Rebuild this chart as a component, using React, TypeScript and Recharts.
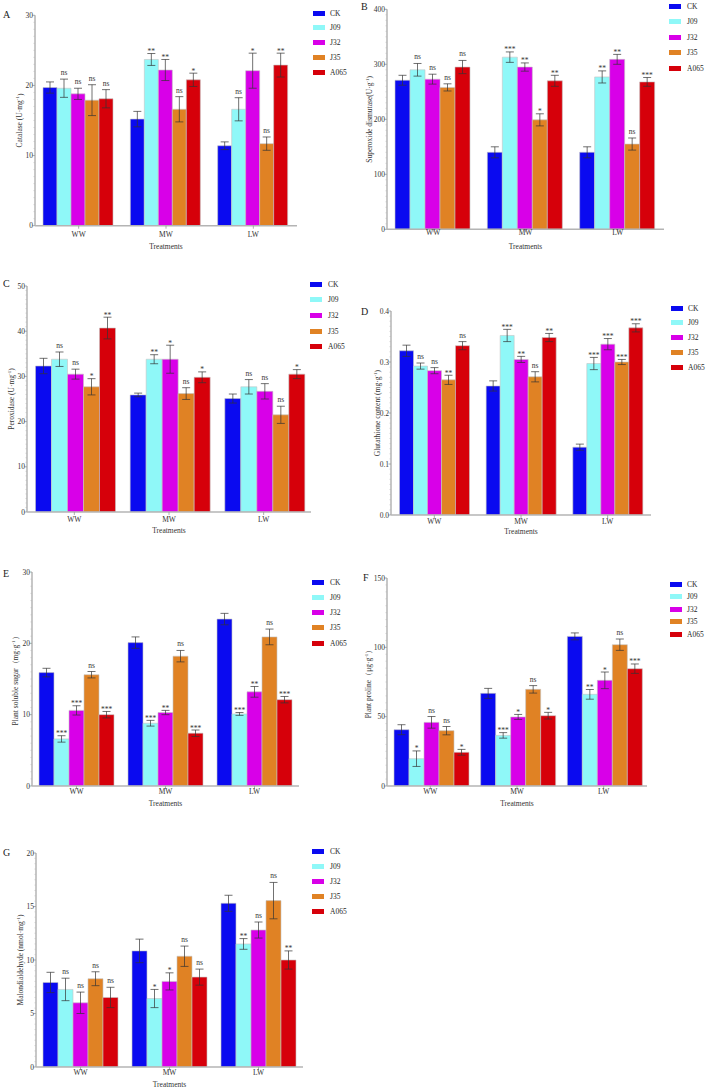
import React from "react";
import { BarChart, Bar, XAxis, YAxis, ErrorBar, LabelList, Legend } from "recharts";

const FONT = '"Liberation Serif", "Times New Roman", serif';

const treatments = ["WW", "MW", "LW"];
const strains = ["CK", "J09", "J32", "J35", "A065"];
const strainColors = ["#0a0af0", "#8ff8f8", "#d800e8", "#e08224", "#d6000a"];

// every table below: one row per strain (CK, J09, J32, J35, A065), columns WW / MW / LW
const catalaseMeans = [
  [19.7, 15.2, 11.4],
  [19.6, 23.7, 16.6],
  [18.8, 22.2, 22.1],
  [17.9, 16.6, 11.7],
  [18.1, 20.8, 22.9],
];
const catalaseErrors = [
  [0.8, 1.1, 0.55],
  [1.3, 0.85, 1.65],
  [0.8, 1.5, 2.5],
  [2.2, 1.8, 0.95],
  [1.3, 0.95, 1.7],
];
const catalaseSig = [
  ["", "", ""],
  ["ns", "**", "ns"],
  ["ns", "**", "*"],
  ["ns", "ns", "ns"],
  ["ns", "*", "**"],
];
const catalaseTicks = [0, 10, 20, 30];

const sodMeans = [
  [271, 140, 140],
  [290, 313, 277],
  [273, 295, 309],
  [258, 199, 155],
  [295, 270, 268],
];
const sodErrors = [
  [9, 10, 10],
  [11.5, 9.5, 11],
  [9, 7.5, 9],
  [6.5, 11, 11],
  [12, 10, 8],
];
const sodSig = [
  ["", "", ""],
  ["ns", "***", "**"],
  ["ns", "**", "**"],
  ["ns", "*", "ns"],
  ["ns", "**", "***"],
];
const sodTicks = [0, 100, 200, 300, 400];

const podMeans = [
  [32.3, 25.9, 25.1],
  [33.8, 33.8, 27.7],
  [30.5, 33.8, 26.7],
  [27.7, 26.2, 21.5],
  [40.7, 29.8, 30.5],
];
const podErrors = [
  [1.7, 0.4, 1.0],
  [1.6, 1.0, 1.6],
  [1.1, 3.1, 1.7],
  [1.8, 1.3, 1.9],
  [2.4, 1.2, 1.0],
];
const podSig = [
  ["", "", ""],
  ["ns", "**", "ns"],
  ["ns", "*", "ns"],
  ["*", "ns", "ns"],
  ["**", "*", "*"],
];
const podTicks = [0, 10, 20, 30, 40, 50];

const gshMeans = [
  [0.322, 0.253, 0.133],
  [0.292, 0.352, 0.297],
  [0.283, 0.305, 0.335],
  [0.265, 0.271, 0.3],
  [0.332, 0.348, 0.367],
];
const gshErrors = [
  [0.011, 0.01, 0.006],
  [0.006, 0.012, 0.012],
  [0.006, 0.006, 0.011],
  [0.009, 0.01, 0.005],
  [0.008, 0.008, 0.008],
];
const gshSig = [
  ["", "", ""],
  ["ns", "***", "***"],
  ["ns", "**", "***"],
  ["**", "ns", "***"],
  ["ns", "**", "***"],
];
const gshTicks = [0, 0.1, 0.2, 0.3, 0.4];

const sugarMeans = [
  [15.9, 20.1, 23.4],
  [6.6, 8.8, 10.1],
  [10.6, 10.3, 13.2],
  [15.6, 18.2, 20.9],
  [10.0, 7.4, 12.1],
];
const sugarErrors = [
  [0.6, 0.8, 0.8],
  [0.45, 0.4, 0.2],
  [0.65, 0.3, 0.75],
  [0.45, 0.8, 1.1],
  [0.45, 0.45, 0.45],
];
const sugarSig = [
  ["", "", ""],
  ["***", "***", "***"],
  ["***", "**", "**"],
  ["ns", "ns", "ns"],
  ["***", "***", "***"],
];
const sugarTicks = [0, 10, 20, 30];

const prolineMeans = [
  [40.6, 66.8, 107.9],
  [19.7, 36.5, 66.1],
  [45.9, 49.8, 76.2],
  [39.9, 69.7, 101.9],
  [24.3, 50.7, 84.6],
];
const prolineErrors = [
  [3.6, 3.6, 2.5],
  [5.6, 2.0, 3.5],
  [4.2, 1.8, 6.0],
  [3.0, 2.7, 4.1],
  [2.1, 2.4, 3.4],
];
const prolineSig = [
  ["", "", ""],
  ["*", "***", "**"],
  ["ns", "*", "*"],
  ["ns", "ns", "ns"],
  ["*", "*", "***"],
];
const prolineTicks = [0, 50, 100, 150];

const mdaMeans = [
  [7.9, 10.85, 15.3],
  [7.25, 6.4, 11.5],
  [6.0, 8.0, 12.8],
  [8.25, 10.35, 15.55],
  [6.5, 8.4, 10.0],
];
const mdaErrors = [
  [0.95, 1.1, 0.75],
  [1.05, 0.85, 0.5],
  [1.0, 0.8, 0.75],
  [0.65, 0.95, 1.7],
  [0.95, 0.75, 0.85],
];
const mdaSig = [
  ["", "", ""],
  ["ns", "*", "**"],
  ["ns", "*", "ns"],
  ["ns", "ns", "ns"],
  ["ns", "ns", "**"],
];
const mdaTicks = [0, 5, 10, 15, 20];

type PanelSpec = {
  letter: string;
  letterPos: [number, number];
  yTitle: [string, string, string];
  means: number[][];
  errors: number[][];
  sig: string[][];
  ticks: number[];
  decimals: number;
  plot: [number, number, number, number]; // x0, y0, x1, y1 on the page
  left: number;
  width: number;
  yTitleX: number;
  tickY: number;
  titleY: number;
  legend: { swatchX: number; textX: number; row0: number; gap: number };
  catGap: number;
};

const panels: PanelSpec[] = [
  {
    letter: "A", letterPos: [3, 15], yTitle: ["Catalase (U·mg", "-1", ")"],
    means: catalaseMeans, errors: catalaseErrors, sig: catalaseSig, ticks: catalaseTicks, decimals: 0,
    plot: [35, 15.3, 297, 225.7], left: 0, width: 354, yTitleX: 20, tickY: 235, titleY: 247,
    legend: { swatchX: 313, textX: 330, row0: 13, gap: 14.75 }, catGap: 8,
  },
  {
    letter: "B", letterPos: [361, 7], yTitle: ["Superoxide dismutase(U·g", "-1", ")"],
    means: sodMeans, errors: sodErrors, sig: sodSig, ticks: sodTicks, decimals: 0,
    plot: [387, 9.3, 664, 229.3], left: 354, width: 353, yTitleX: 369, tickY: 233, titleY: 247,
    legend: { swatchX: 669, textX: 687, row0: 6, gap: 15.5 }, catGap: 8,
  },
  {
    letter: "C", letterPos: [3, 284], yTitle: ["Peroxidase (U·mg", "-1", ")"],
    means: podMeans, errors: podErrors, sig: podSig, ticks: podTicks, decimals: 0,
    plot: [27, 286, 311, 512], left: 0, width: 354, yTitleX: 11, tickY: 519, titleY: 530,
    legend: { swatchX: 310, textX: 328, row0: 284, gap: 15.7 }, catGap: 8.5,
  },
  {
    letter: "D", letterPos: [361, 312], yTitle: ["Glutathione content (mg·g", "-1", ")"],
    means: gshMeans, errors: gshErrors, sig: gshSig, ticks: gshTicks, decimals: 1,
    plot: [391, 311, 651, 515], left: 354, width: 353, yTitleX: 377, tickY: 521, titleY: 531,
    legend: { swatchX: 671, textX: 688, row0: 308, gap: 14.75 }, catGap: 8.5,
  },
  {
    letter: "E", letterPos: [3, 574], yTitle: ["Plant soluble sugar（mg·g", "-1", "）"],
    means: sugarMeans, errors: sugarErrors, sig: sugarSig, ticks: sugarTicks, decimals: 0,
    plot: [32, 572, 299, 786], left: 0, width: 354, yTitleX: 15, tickY: 791, titleY: 803,
    legend: { swatchX: 312, textX: 330, row0: 582, gap: 15.25 }, catGap: 7,
  },
  {
    letter: "F", letterPos: [363, 578], yTitle: ["Plant proline（μg·g", "-1", "）"],
    means: prolineMeans, errors: prolineErrors, sig: prolineSig, ticks: prolineTicks, decimals: 0,
    plot: [387, 578, 647, 786], left: 354, width: 353, yTitleX: 368, tickY: 791, titleY: 803,
    legend: { swatchX: 670, textX: 687, row0: 584, gap: 12.5 }, catGap: 7,
  },
  {
    letter: "G", letterPos: [3, 853], yTitle: ["Malondialdehyde (nmol·mg", "-1", ")"],
    means: mdaMeans, errors: mdaErrors, sig: mdaSig, ticks: mdaTicks, decimals: 0,
    plot: [36, 853, 303, 1067], left: 0, width: 354, yTitleX: 20, tickY: 1072, titleY: 1084,
    legend: { swatchX: 312, textX: 330, row0: 851, gap: 15 }, catGap: 7,
  },
];

const buildRows = (means: number[][], errors: number[][], sig: string[][]) =>
  treatments.map((t, ti) => {
    const row: Record<string, string | number> = { treatment: t };
    strains.forEach((_, si) => {
      row[`m${si}`] = means[si][ti];
      row[`e${si}`] = errors[si][ti];
      row[`s${si}`] = sig[si][ti];
    });
    return row;
  });

// major ticks get a label, ten minor ticks sit between each pair
const withMinorTicks = (majors: number[]) => {
  const step = (majors[1] - majors[0]) / 10;
  const out: number[] = [];
  for (let i = 0; i <= (majors.length - 1) * 10; i++) {
    out.push(Math.round((majors[0] + i * step) * 1e6) / 1e6);
  }
  return out;
};

const makeYTick = (axisX: number, majors: number[], decimals: number) => (props: any) => {
  const { y, payload } = props;
  const v = payload.value;
  const isMajor = majors.some((m) => Math.abs(m - v) < 1e-9);
  if (!isMajor) {
    return <line x1={axisX - 1.5} x2={axisX} y1={y} y2={y} stroke="#b8b8b8" strokeWidth={0.6} />;
  }
  return (
    <g>
      <line x1={axisX - 2.5} x2={axisX} y1={y} y2={y} stroke="#999" strokeWidth={0.8} />
      <text x={axisX - 2} y={y} textAnchor="end" dominantBaseline="central" fontSize={7.5} fill="#333" fontFamily={FONT}>
        {v.toFixed(decimals)}
      </text>
    </g>
  );
};

const makeXTick = (axisY: number, labelY: number) => (props: any) => {
  const { x, payload } = props;
  return (
    <g>
      <line x1={x} x2={x} y1={axisY} y2={axisY + 3} stroke="#999" strokeWidth={0.8} />
      <text x={x} y={labelY} textAnchor="middle" dominantBaseline="central" fontSize={7.5} fill="#333" fontFamily={FONT}>
        {payload.value}
      </text>
    </g>
  );
};

const makeSigLabel = (errs: number[], means: number[]) => (props: any) => {
  const { index, value } = props;
  if (!value) return null;
  const vb = props.viewBox ?? {};
  const x = props.x ?? vb.x;
  const y = props.y ?? vb.y;
  const w = props.width ?? vb.width;
  const h = props.height ?? vb.height;
  const errPx = (h * errs[index]) / means[index];
  const capY = y - errPx;
  const baseline = value === "ns" ? capY - 4 : capY + 0.5;
  return (
    <text x={x + w / 2} y={baseline} textAnchor="middle" fontSize={7.5} fill="#333" fontFamily={FONT}>
      {value}
    </text>
  );
};

const yTitleContent = (x: number, y: number, parts: [string, string, string]) => () => (
  <text
    x={x}
    y={y}
    transform={`rotate(-90 ${x} ${y})`}
    textAnchor="middle"
    dominantBaseline="central"
    fontSize={7.5}
    fill="#333"
    fontFamily={FONT}
  >
    {parts[0]}
    <tspan dy={-2.5} fontSize={5}>
      {parts[1]}
    </tspan>
    <tspan dy={2.5}>{parts[2]}</tspan>
  </text>
);

const xTitleContent = (x: number, y: number) => () => (
  <text x={x} y={y} textAnchor="middle" dominantBaseline="central" fontSize={7.5} fill="#333" fontFamily={FONT}>
    Treatments
  </text>
);

const LegendBox = ({ textOffset, gap }: { textOffset: number; gap: number }) => (
  <div style={{ position: "relative", fontFamily: FONT, fontSize: 7.5 }}>
    {strains.map((s, i) => (
      <div key={s} style={{ position: "absolute", left: 0, top: i * gap, height: 12, display: "flex", alignItems: "center" }}>
        <span style={{ display: "inline-block", width: 12, height: 5, background: strainColors[i] }} />
        <span style={{ marginLeft: textOffset - 12, whiteSpace: "nowrap", color: "#262626" }}>{s}</span>
      </div>
    ))}
  </div>
);

const X_AXIS_HEIGHT = 30;

const Panel = ({ spec }: { spec: PanelSpec }) => {
  const [x0, y0, x1, y1] = spec.plot;
  const top = Math.max(0, y0 - 24);
  const height = y1 - top + X_AXIS_HEIGHT + 2;
  const rows = buildRows(spec.means, spec.errors, spec.sig);
  const axisX = x0 - spec.left;
  const axisY = y1 - top;
  const { swatchX, textX, row0, gap } = spec.legend;

  return (
    <div style={{ position: "absolute", left: spec.left, top }}>
      <BarChart
        width={spec.width}
        height={height}
        data={rows}
        margin={{ top: y0 - top, right: spec.left + spec.width - x1, bottom: 2, left: 0 }}
        barCategoryGap={spec.catGap}
        barGap={0}
      >
        <XAxis
          dataKey="treatment"
          height={X_AXIS_HEIGHT}
          axisLine={{ stroke: "#b4b4b4", strokeWidth: 1.5 }}
          tickLine={false}
          interval={0}
          tick={makeXTick(axisY, spec.tickY - top)}
          label={{ value: "Treatments", content: xTitleContent((x0 + x1) / 2 - spec.left, spec.titleY - top) }}
        />
        <YAxis
          width={axisX}
          domain={[spec.ticks[0], spec.ticks[spec.ticks.length - 1]]}
          ticks={withMinorTicks(spec.ticks)}
          interval={0}
          allowDataOverflow
          axisLine={{ stroke: "#b4b4b4", strokeWidth: 1.5 }}
          tickLine={false}
          tick={makeYTick(axisX, spec.ticks, spec.decimals)}
          label={{ value: spec.yTitle.join(""), content: yTitleContent(spec.yTitleX - spec.left, (y0 + y1) / 2 - top, spec.yTitle) }}
        />
        <Legend
          layout="vertical"
          align="center"
          verticalAlign="middle"
          wrapperStyle={{ left: swatchX - spec.left, top: row0 - top - 6, width: 50, height: 5 * gap + 12 }}
          content={() => <LegendBox textOffset={textX - swatchX} gap={gap} />}
        />
        {strains.map((s, si) => (
          <Bar
            key={s}
            dataKey={`m${si}`}
            name={s}
            fill={strainColors[si]}
            stroke="#c4c4c4"
            strokeWidth={0.6}
            isAnimationActive={false}
          >
            <ErrorBar dataKey={`e${si}`} width={4} stroke="#333" strokeWidth={0.7} direction="y" />
            <LabelList dataKey={`s${si}`} content={makeSigLabel(spec.errors[si], spec.means[si])} />
          </Bar>
        ))}
      </BarChart>
      <div
        style={{
          position: "absolute",
          left: spec.letterPos[0] - spec.left,
          top: spec.letterPos[1] - top - 6,
          fontFamily: FONT,
          fontSize: 10,
          color: "#222",
          lineHeight: "12px",
        }}
      >
        {spec.letter}
      </div>
    </div>
  );
};

export default function App() {
  return (
    <div style={{ position: "absolute", left: 0, top: 0, width: 707, height: 1090, background: "#fff", overflow: "hidden" }}>
      {panels.map((p) => (
        <Panel key={p.letter} spec={p} />
      ))}
    </div>
  );
}
